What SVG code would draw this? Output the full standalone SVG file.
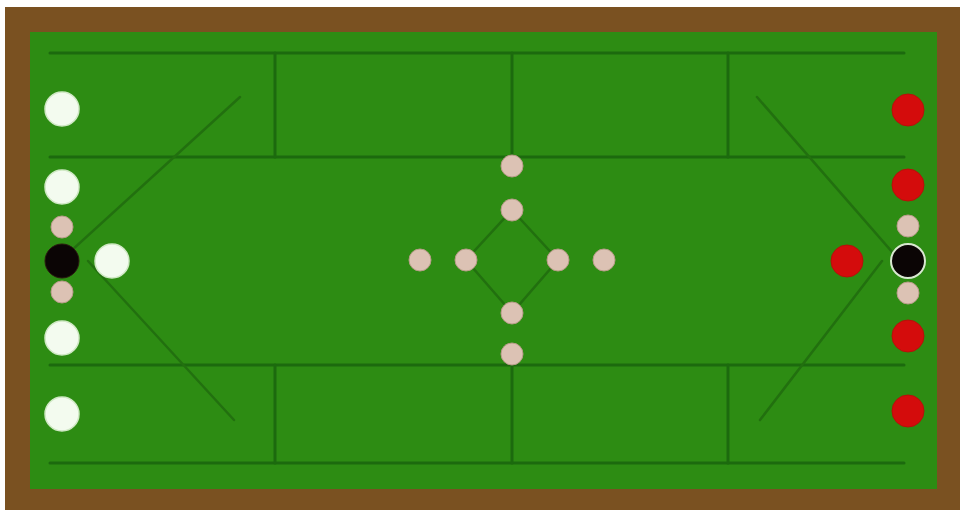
<svg xmlns="http://www.w3.org/2000/svg" width="962" height="513" viewBox="0 0 962 513">
  <style>
    .ln { stroke: #1c6a0e; stroke-width: 3; fill: none; stroke-linecap: round; }
    .dg { stroke: #22700f; stroke-width: 2.5; fill: none; stroke-linecap: round; }
    .white { fill: #f3fbef; stroke: #cfe8c4; stroke-width: 1.5; }
    .red { fill: #d40c0c; stroke: #b81008; stroke-width: 1; }
    .tan { fill: #dcc2b4; stroke: #b89c88; stroke-width: 1; }
    .black { fill: #0b0505; stroke: #2a1a10; stroke-width: 1; }
    .blackr { fill: #0b0505; stroke: #d8e8d0; stroke-width: 2; }
  </style>
  <rect x="0" y="0" width="962" height="513" fill="#ffffff"/>
  <rect id="table-border" x="5" y="7" width="955" height="503" fill="#7a5121"/>
  <rect id="table-cloth" x="30" y="32" width="907" height="457" fill="#2d8c13"/>
  <g id="connectors">
    <line class="ln" x1="50" y1="53" x2="904" y2="53"/>
    <line class="ln" x1="50" y1="157" x2="904" y2="157"/>
    <line class="ln" x1="50" y1="365" x2="904" y2="365"/>
    <line class="ln" x1="50" y1="463" x2="904" y2="463"/>
    <line class="ln" x1="275" y1="53" x2="275" y2="157"/>
    <line class="ln" x1="512" y1="53" x2="512" y2="157"/>
    <line class="ln" x1="728" y1="53" x2="728" y2="157"/>
    <line class="ln" x1="275" y1="365" x2="275" y2="463"/>
    <line class="ln" x1="512" y1="365" x2="512" y2="463"/>
    <line class="ln" x1="728" y1="365" x2="728" y2="463"/>
    <line class="dg" x1="60" y1="261" x2="240" y2="97"/>
    <line class="dg" x1="88" y1="261" x2="234" y2="420"/>
    <line class="dg" x1="900" y1="261" x2="757" y2="97"/>
    <line class="dg" x1="882" y1="261" x2="760" y2="420"/>
    <polygon class="dg" points="512,210 466,260 512,313 558,260"/>
  </g>
  <g id="left-white-1"><circle class="white" cx="62" cy="109" r="17"/></g>
  <g id="left-white-2"><circle class="white" cx="62" cy="187" r="17"/></g>
  <g id="left-white-3"><circle class="white" cx="62" cy="338" r="17"/></g>
  <g id="left-white-4"><circle class="white" cx="62" cy="414" r="17"/></g>
  <g id="left-tan-1"><circle class="tan" cx="62" cy="227" r="11"/></g>
  <g id="left-tan-2"><circle class="tan" cx="62" cy="292" r="11"/></g>
  <g id="left-black"><circle class="black" cx="62" cy="261" r="17"/></g>
  <g id="cue-ball"><circle class="white" cx="112" cy="261" r="17"/></g>
  <g id="right-red-1"><circle class="red" cx="908" cy="110" r="16"/></g>
  <g id="right-red-2"><circle class="red" cx="908" cy="185" r="16"/></g>
  <g id="right-red-3"><circle class="red" cx="908" cy="336" r="16"/></g>
  <g id="right-red-4"><circle class="red" cx="908" cy="411" r="16"/></g>
  <g id="right-tan-1"><circle class="tan" cx="908" cy="226" r="11"/></g>
  <g id="right-tan-2"><circle class="tan" cx="908" cy="293" r="11"/></g>
  <g id="right-black"><circle class="blackr" cx="908" cy="261" r="17"/></g>
  <g id="red-ball"><circle class="red" cx="847" cy="261" r="16"/></g>
  <g id="c-top-1"><circle class="tan" cx="512" cy="166" r="11"/></g>
  <g id="c-top-2"><circle class="tan" cx="512" cy="210" r="11"/></g>
  <g id="c-bot-1"><circle class="tan" cx="512" cy="313" r="11"/></g>
  <g id="c-bot-2"><circle class="tan" cx="512" cy="354" r="11"/></g>
  <g id="c-left-1"><circle class="tan" cx="420" cy="260" r="11"/></g>
  <g id="c-left-2"><circle class="tan" cx="466" cy="260" r="11"/></g>
  <g id="c-right-1"><circle class="tan" cx="558" cy="260" r="11"/></g>
  <g id="c-right-2"><circle class="tan" cx="604" cy="260" r="11"/></g>
</svg>
